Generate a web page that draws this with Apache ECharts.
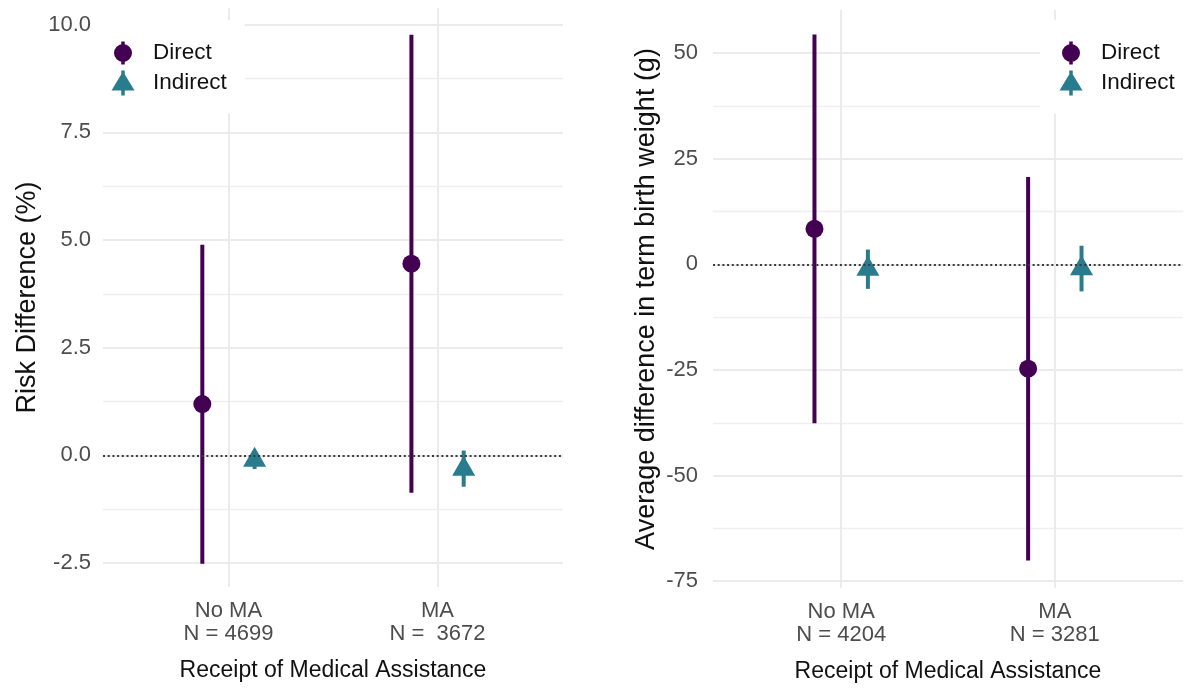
<!DOCTYPE html>
<html>
<head>
<meta charset="utf-8">
<script src="https://cdn.jsdelivr.net/npm/echarts@6/dist/echarts.min.js"></script>
<style>
html,body{margin:0;padding:0;background:#fff;}
#main{width:1191px;height:688px;}
</style>
</head>
<body>
<div id="main"></div>
<script>
// ---- Data ----
const riskCategories = ['No MA\nN = 4699', 'MA\nN =  3672'];
const riskDirectEst = [1.19, 4.45];
const riskDirectLo = [-2.52, -0.87];
const riskDirectHi = [4.89, 9.77];
const riskIndirectEst = [-0.11, -0.32];
const riskIndirectLo = [-0.32, -0.73];
const riskIndirectHi = [0.10, 0.11];
const riskTicks = [-2.5, 0, 2.5, 5, 7.5, 10];
const riskMinorTicks = [-1.25, 1.25, 3.75, 6.25, 8.75];

const bwCategories = ['No MA\nN = 4204', 'MA\nN = 3281'];
const bwDirectEst = [8.4, -24.7];
const bwDirectLo = [-37.6, -70.1];
const bwDirectHi = [54.4, 20.7];
const bwIndirectEst = [-1.1, -1.0];
const bwIndirectLo = [-5.8, -6.4];
const bwIndirectHi = [3.5, 4.4];
const bwTicks = [-75, -50, -25, 0, 25, 50];
const bwMinorTicks = [-62.5, -37.5, -12.5, 12.5, 37.5];

const catPositions = [1, 2];

// ---- Style ----
const FONT = "'Liberation Sans', Arial, Helvetica, sans-serif";
const C_DIRECT = '#440154';
const C_INDIRECT = '#287C8E';
const GRID_COLOR = '#ebebeb';
const DODGE = 0.125;
const ICON_DIRECT = 'path://M0,0L0,0ZM23,25L23,25ZM2.5,12.5A9,9,0,1,1,20.5,12.5A9,9,0,1,1,2.5,12.5ZM9.75,1L13.25,1L13.25,24L9.75,24Z';
const ICON_INDIRECT = 'path://M0,0L0,0ZM23,25L23,25ZM0,20L11.5,1L23,20ZM9.75,0L13.25,0L13.25,25L9.75,25Z';

function errData(lo, hi, shift) { return lo.map((l, i) => [catPositions[i] + shift, l, hi[i]]); }
function ptData(est, shift) { return est.map((e, i) => [catPositions[i] + shift, e]); }
function errRender(color) {
  return function (params, api) {
    const p1 = api.coord([api.value(0), api.value(1)]);
    const p2 = api.coord([api.value(0), api.value(2)]);
    return { type: 'line', shape: { x1: p1[0], y1: p1[1], x2: p2[0], y2: p2[1] },
      style: { stroke: color, lineWidth: 4, lineCap: 'butt' } };
  };
}

function xAxisDef(gridIndex, cats) {
  return {
    type: 'value', gridIndex: gridIndex, min: 0.4, max: 2.6,
    name: 'Receipt of Medical Assistance', nameLocation: 'middle', nameGap: 72,
    nameTextStyle: { fontFamily: FONT, fontSize: 23, color: '#111' },
    axisLine: { show: false },
    axisTick: { show: false, customValues: catPositions },
    axisLabel: { customValues: catPositions, margin: 12, fontFamily: FONT, fontSize: 22,
      color: '#4d4d4d', lineHeight: 23.5, align: 'center',
      formatter: v => cats[Math.round(v) - 1] },
    splitLine: { show: true, lineStyle: { color: GRID_COLOR, width: 2 } }
  };
}
function yAxisMain(gridIndex, min, max, ticks, name, nameGap, margin, fmt) {
  return {
    type: 'value', gridIndex: gridIndex, min: min, max: max,
    name: name, nameLocation: 'middle', nameGap: nameGap, nameRotate: 90,
    nameTextStyle: { fontFamily: FONT, fontSize: 27, color: '#111' },
    axisLine: { show: false },
    axisTick: { show: false, customValues: ticks },
    axisLabel: { customValues: ticks, margin: margin, fontFamily: FONT, fontSize: 22, color: '#4d4d4d', formatter: fmt },
    splitLine: { show: true, lineStyle: { color: GRID_COLOR, width: 1.8 } }
  };
}
function yAxisMinor(gridIndex, min, max, ticks) {
  return {
    type: 'value', gridIndex: gridIndex, min: min, max: max, position: 'left',
    axisLine: { show: false },
    axisTick: { show: false, customValues: ticks },
    axisLabel: { show: false, customValues: ticks },
    splitLine: { show: true, lineStyle: { color: '#efefef', width: 1.4 } }
  };
}
const zeroLine = {
  silent: true, symbol: 'none', label: { show: false },
  lineStyle: { color: '#3a3a3a', width: 2, type: [2, 2.7] },
  data: [{ yAxis: 0 }]
};
function legendDef(left, padding) {
  return {
    orient: 'vertical', left: left, top: 20, padding: padding,
    backgroundColor: '#ffffff', itemWidth: 23, itemHeight: 25, itemGap: 5,
    selectedMode: false,
    textStyle: { fontFamily: FONT, fontSize: 22.5, color: '#111', padding: [0, 0, 0, 13.5] },
    data: [{ name: 'Direct', icon: ICON_DIRECT }, { name: 'Indirect', icon: ICON_INDIRECT }]
  };
}
function panelSeries(xi, yi, dEst, dLo, dHi, iEst, iLo, iHi) {
  return [
    { type: 'custom', name: 'Direct', xAxisIndex: xi, yAxisIndex: yi, z: 2,
      itemStyle: { color: C_DIRECT }, encode: { x: 0, y: [1, 2] },
      renderItem: errRender(C_DIRECT), data: errData(dLo, dHi, -DODGE) },
    { type: 'custom', name: 'Indirect', xAxisIndex: xi, yAxisIndex: yi, z: 2,
      itemStyle: { color: C_INDIRECT }, encode: { x: 0, y: [1, 2] },
      renderItem: errRender(C_INDIRECT), data: errData(iLo, iHi, DODGE) },
    { type: 'scatter', name: 'Direct', xAxisIndex: xi, yAxisIndex: yi, z: 3,
      symbol: 'circle', symbolSize: 18, itemStyle: { color: C_DIRECT, opacity: 1 },
      data: ptData(dEst, -DODGE), markLine: zeroLine },
    { type: 'scatter', name: 'Indirect', xAxisIndex: xi, yAxisIndex: yi, z: 4,
      symbol: 'triangle', symbolSize: [23, 20], symbolOffset: [0, -3.3],
      itemStyle: { color: C_INDIRECT, opacity: 1 }, data: ptData(iEst, DODGE) }
  ];
}

const chart = echarts.init(document.getElementById('main'));
chart.setOption({
  backgroundColor: '#ffffff',
  animation: false,
  grid: [
    { left: 103, right: 628, top: 8, bottom: 101 },
    { left: 713, right: 8, top: 10, bottom: 98 }
  ],
  legend: [
    legendDef(103, [20.5, 18, 18, 8.5]),
    legendDef(1040, [20.5, 9, 18, 19.5])
  ],
  xAxis: [xAxisDef(0, riskCategories), xAxisDef(1, bwCategories)],
  yAxis: [
    yAxisMain(0, -3.06, 10.39, riskTicks, 'Risk Difference (%)', 61.5, 12, v => v.toFixed(1)),
    yAxisMinor(0, -3.06, 10.39, riskMinorTicks),
    yAxisMain(1, -76.6, 60.2, bwTicks, 'Average difference in term birth weight (g)', 52.5, 15, v => String(v)),
    yAxisMinor(1, -76.6, 60.2, bwMinorTicks)
  ],
  series: [].concat(
    panelSeries(0, 0, riskDirectEst, riskDirectLo, riskDirectHi, riskIndirectEst, riskIndirectLo, riskIndirectHi),
    panelSeries(1, 2, bwDirectEst, bwDirectLo, bwDirectHi, bwIndirectEst, bwIndirectLo, bwIndirectHi)
  )
});
</script>
</body>
</html>
